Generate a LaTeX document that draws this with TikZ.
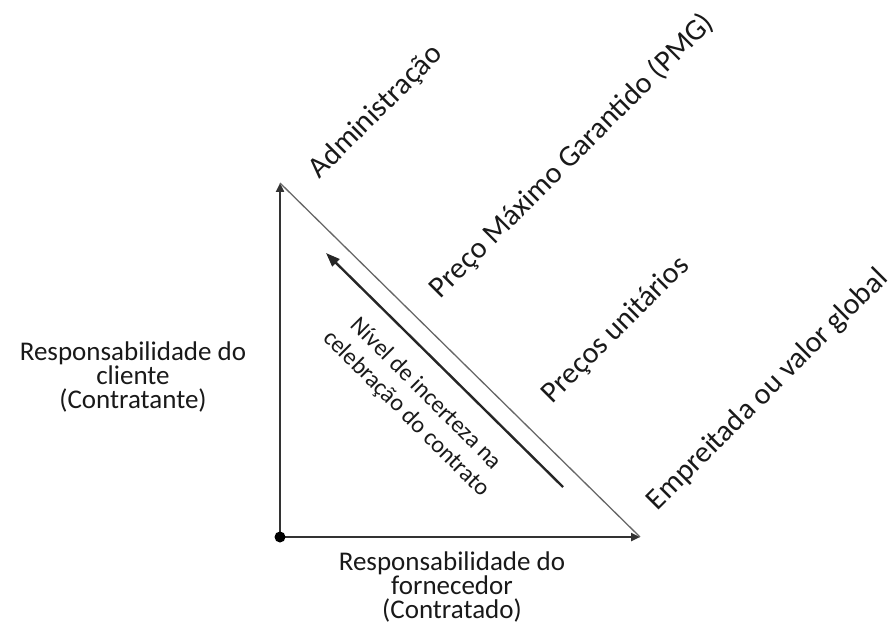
\documentclass[tikz,border=0pt]{standalone}
\usepackage{fontspec}
\setmainfont{Carlito}
\usetikzlibrary{arrows.meta}
\begin{document}
\begin{tikzpicture}[x=1pt,y=1pt,
  axis/.style={draw=black!80,line width=2.4pt,-{Triangle[length=9pt,width=8pt]}},
  hyp/.style={draw=black!60,line width=1.3pt},
  lbl/.style={font=\fontsize{27}{24}\selectfont,text=black!90,inner sep=0pt,align=center},
  diag/.style={lbl,font=\fontsize{30}{30}\selectfont,rotate=45}]
\useasboundingbox (0,0) rectangle (893,632);
\coordinate (O) at (280,95);
\coordinate (T) at (280,449);
\coordinate (R) at (640,95);
\coordinate (A1) at (563,145);
\coordinate (A2) at (326,379);
\draw[axis] (O) -- (T);
\draw[axis] (O) -- (R);
\draw[hyp] (T) -- (R);
\fill[black] (O) circle (5.5pt);
\draw[draw=black!85,line width=2.4pt,-{Triangle[length=14pt,width=10pt]}] (A1) -- (A2);
\node[diag] (adm) at (376,520) {Administração};
\node[diag] (pmg) at (572,476) {Preço Máximo Garantido (PMG)};
\node[diag] (pu) at (616,302) {Preços unitários};
\node[diag] (emp) at (768,242) {Empreitada ou valor global};
\node[lbl,font=\fontsize{24}{28}\selectfont,rotate=-45] (niv) at (416,228) {Nível de incerteza na\\celebração do contrato};
\node[lbl] (cli) at (133,255) {Responsabilidade do\\cliente\\(Contratante)};
\node[lbl] (forn) at (452,45) {Responsabilidade do\\fornecedor\\(Contratado)};
\end{tikzpicture}
\end{document}
